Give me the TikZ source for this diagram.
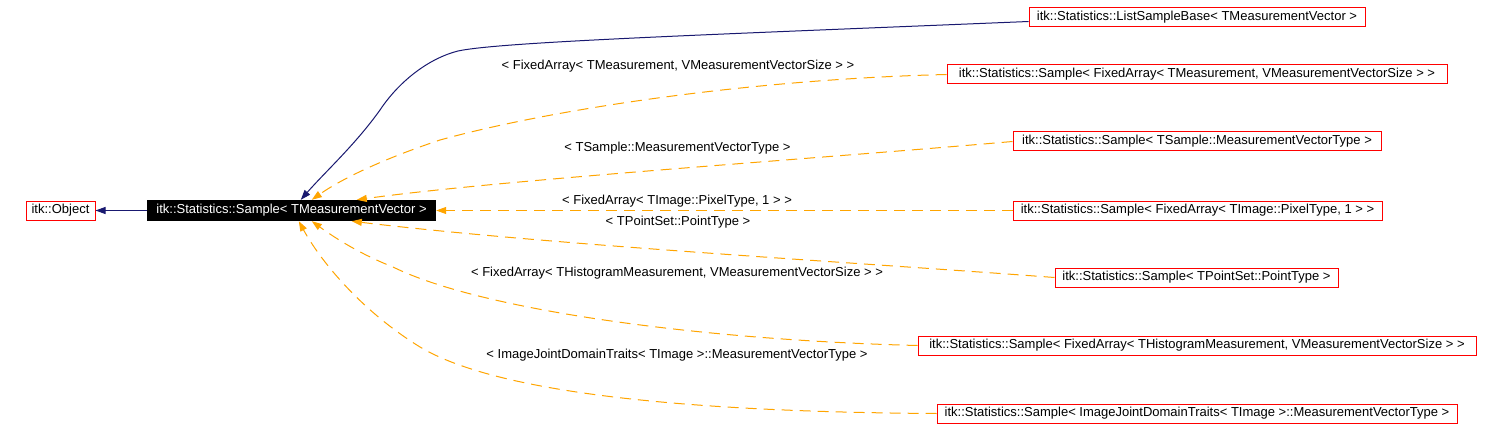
\documentclass[tikz,border=0pt]{standalone}
\usepackage{fontspec}
\setmainfont{Liberation Sans}
\usetikzlibrary{arrows.meta,calc}
\definecolor{navy}{HTML}{191970}
\definecolor{orng}{HTML}{FFA500}
\definecolor{boxred}{HTML}{FF0000}
\begin{document}
\begin{tikzpicture}[x=1pt,y=-1pt,
  every node/.style={font=\fontsize{13}{15}\selectfont, inner sep=0pt},
  cls/.style={draw=boxred, line width=1pt, minimum height=19pt, text height=9.5pt, text depth=3pt},
  cur/.style={fill=black, text=white, minimum height=21pt, text height=9.5pt, text depth=3pt},
  lbl/.style={text height=9.5pt, text depth=3pt},
  inh/.style={draw=navy, line width=1pt, -{Triangle[length=10pt,width=7pt]}},
  tmpl/.style={draw=orng, line width=1pt, dash pattern=on 11pt off 7pt, -{Triangle[length=10pt,width=7pt]}}
]
\fill[white] (0,0) rectangle (1500,441);
\useasboundingbox (0,0) rectangle (1500,441);

\node[cls, minimum width=69pt] (obj) at (60.5,210.5) {itk::Object};
\node[cur, minimum width=289pt] (main) at (291.5,210.5) {itk::Statistics::Sample< TMeasurementVector >};
\node[cls, minimum width=336pt] (lsb) at (1197,17.5) {itk::Statistics::ListSampleBase< TMeasurementVector >};
\node[cls, minimum width=500pt] (s1) at (1197,74.5) {itk::Statistics::Sample< FixedArray< TMeasurement, VMeasurementVectorSize > >};
\node[cls, minimum width=368pt] (s2) at (1197,141.5) {itk::Statistics::Sample< TSample::MeasurementVectorType >};
\node[cls, minimum width=369pt] (s3) at (1197.5,210.5) {itk::Statistics::Sample< FixedArray< TImage::PixelType, 1 > >};
\node[cls, minimum width=283pt] (s4) at (1196.5,277.5) {itk::Statistics::Sample< TPointSet::PointType >};
\node[cls, minimum width=558pt] (s5) at (1197,345.5) {itk::Statistics::Sample< FixedArray< THistogramMeasurement, VMeasurementVectorSize > >};
\node[cls, minimum width=520pt] (s6) at (1197,413.5) {itk::Statistics::Sample< ImageJointDomainTraits< TImage >::MeasurementVectorType >};

\node[lbl] (l1) at (678,66) {< FixedArray< TMeasurement, VMeasurementVectorSize > >};
\node[lbl] (l2) at (677.5,148) {< TSample::MeasurementVectorType >};
\node[lbl] (l3) at (677,201) {< FixedArray< TImage::PixelType, 1 > >};
\node[lbl] (l4) at (678,222) {< TPointSet::PointType >};
\node[lbl] (l5) at (677,273) {< FixedArray< THistogramMeasurement, VMeasurementVectorSize > >};
\node[lbl] (l6) at (677,355) {< ImageJointDomainTraits< TImage >::MeasurementVectorType >};

\draw[inh] (main.west) -- (obj.east);
\draw[inh] ([yshift=-4pt]lsb.west) .. controls (700,35) and (500,42) .. (458,51)
  .. controls (430,58) and (400,80) .. (380,110)
  .. controls (355,145) and (325,172) .. ([xshift=154pt]main.north west);
\draw[tmpl] (s1.west) .. controls (760,79) and (560,107) .. (440,140)
  .. controls (380,160) and (340,180) .. ([xshift=165pt]main.north west);
\draw[tmpl] (s2.west) .. controls (800,160) and (500,180) .. ([xshift=210pt]main.north west);
\draw[tmpl] (s3.west) -- (main.east);
\draw[tmpl] (s4.west) .. controls (850,262) and (550,245) .. ([xshift=205pt]main.south west);
\draw[tmpl] (s5.west) .. controls (700,340) and (480,310) .. (393,267)
  .. controls (360,254) and (335,238) .. ([xshift=165pt]main.south west);
\draw[tmpl] (s6.west) .. controls (700,412) and (500,395) .. (420,347)
  .. controls (360,310) and (320,260) .. ([xshift=152pt]main.south west);
\end{tikzpicture}
\end{document}
